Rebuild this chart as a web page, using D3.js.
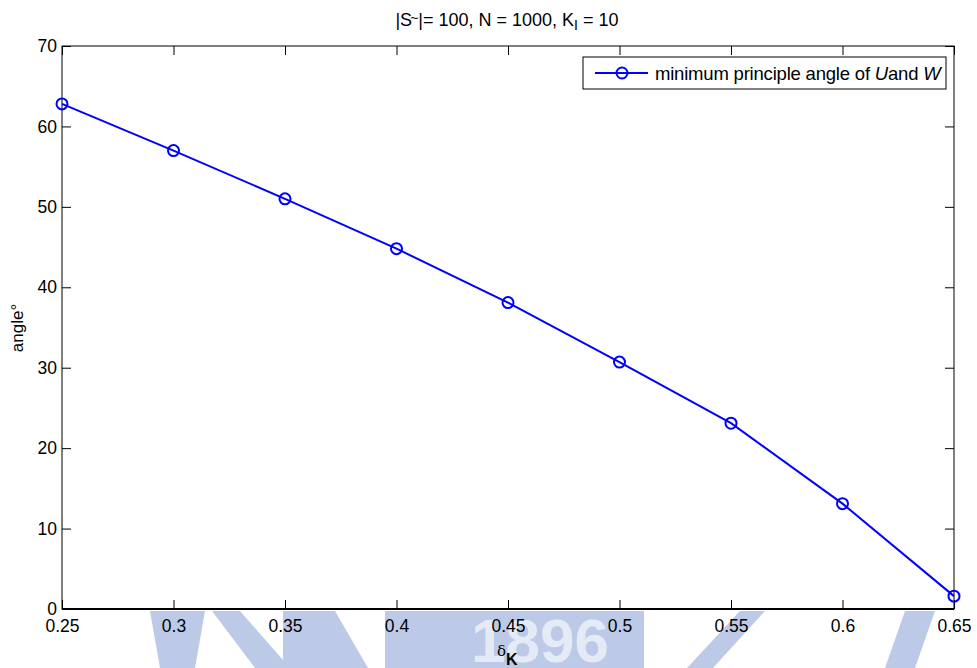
<!DOCTYPE html>
<html>
<head>
<meta charset="utf-8">
<script src="https://cdn.jsdelivr.net/npm/d3@7"></script>
<style>
  body { margin: 0; background: #fff; }
  text { font-family: "Liberation Sans", Arial, sans-serif; }
</style>
</head>
<body>
<script>
var w = 977;
var h = 668;

// data
var delta = [0.25, 0.30, 0.35, 0.40, 0.45, 0.50, 0.55, 0.60, 0.65];
var angle = [62.8, 57.0, 51.0, 44.8, 38.1, 30.7, 23.1, 13.1, 1.6];

var xTicks = [0.25, 0.3, 0.35, 0.4, 0.45, 0.5, 0.55, 0.6, 0.65];
var xTickLabels = ["0.25", "0.3", "0.35", "0.4", "0.45", "0.5", "0.55", "0.6", "0.65"];
var yTicks = [0, 10, 20, 30, 40, 50, 60, 70];

// axes box (plot left/right/top/bottom)
var pl = 62, pr = 954, pt = 46, pb = 609;
var tickLen = 9;

var x = d3.scaleLinear().domain([0.25, 0.65]).range([pl, pr]);
var y = d3.scaleLinear().domain([0, 70]).range([pb, pt]);

var svg = d3.select("body").append("svg")
    .attr("width", w)
    .attr("height", h);

// faint watermark below the axes
var wm = svg.append("g").attr("id", "watermark").attr("fill", "#bccae8");
var wmPolys = [
  [[150,611],[205,611],[195,668],[160,668]],
  [[212,611],[240,611],[290,668],[255,668]],
  [[283,611],[335,611],[368,668],[283,668]],
  [[385,611],[644,611],[644,668],[385,668]],
  [[740,611],[765,611],[713,668],[687,668]],
  [[905,611],[935,611],[915,668],[885,668]]
];
wm.selectAll("polygon").data(wmPolys).enter().append("polygon")
    .attr("points", function(d){ return d.map(function(p){ return p.join(","); }).join(" "); });
wm.append("text")
    .attr("x", 540).attr("y", 662)
    .attr("text-anchor", "middle")
    .attr("font-size", 62)
    .attr("font-weight", "bold")
    .attr("fill", "#e4eaf6")
    .text("1896");
svg.append("rect").attr("x", 0).attr("y", 0).attr("width", w).attr("height", 611).attr("fill", "#fff");

// box
svg.append("rect")
    .attr("x", pl).attr("y", pt)
    .attr("width", pr - pl).attr("height", pb - pt)
    .attr("fill", "#fff")
    .attr("stroke", "#000")
    .attr("stroke-width", 1);

// ticks (inside, all four sides)
svg.append("g").attr("transform", "translate(0," + pb + ")")
    .call(d3.axisBottom(x).tickValues(xTicks).tickSizeInner(-tickLen).tickSizeOuter(0)
        .tickPadding(11)
        .tickFormat(function(d, i){ return xTickLabels[i]; }));
svg.append("g").attr("transform", "translate(0," + pt + ")")
    .call(d3.axisTop(x).tickValues(xTicks).tickSizeInner(-tickLen).tickSizeOuter(0).tickFormat(""));
svg.append("g").attr("transform", "translate(" + pl + ",0)")
    .call(d3.axisLeft(y).tickValues(yTicks).tickSizeInner(-tickLen).tickSizeOuter(0)
        .tickPadding(5));
svg.append("g").attr("transform", "translate(" + pr + ",0)")
    .call(d3.axisRight(y).tickValues(yTicks).tickSizeInner(-tickLen).tickSizeOuter(0).tickFormat(""));

svg.selectAll(".domain").remove();
svg.selectAll(".tick line").attr("stroke", "#000").attr("stroke-width", 1);
svg.selectAll(".tick text")
    .attr("fill", "#000")
    .attr("font-size", 17.5)
    .attr("font-family", "Liberation Sans, Arial, sans-serif");

// thicker bottom axis line
svg.append("line")
    .attr("x1", pl).attr("x2", pr)
    .attr("y1", pb).attr("y2", pb)
    .attr("stroke", "#000").attr("stroke-width", 2);

// series
var line = d3.line()
    .x(function(d, i){ return x(delta[i]); })
    .y(function(d){ return y(d); });

svg.append("path")
    .datum(angle)
    .attr("d", line)
    .attr("fill", "none")
    .attr("stroke", "#0000ff")
    .attr("stroke-width", 2);

svg.append("g").selectAll("circle")
    .data(angle)
    .enter()
    .append("circle")
    .attr("cx", function(d, i){ return x(delta[i]); })
    .attr("cy", function(d){ return y(d); })
    .attr("r", 5.5)
    .attr("fill", "none")
    .attr("stroke", "#0000ff")
    .attr("stroke-width", 2);

// legend
var lg = svg.append("g").attr("id", "legend");
lg.append("rect")
    .attr("x", 583).attr("y", 57)
    .attr("width", 363).attr("height", 32)
    .attr("fill", "#fff").attr("stroke", "#000").attr("stroke-width", 1);
lg.append("line")
    .attr("x1", 595).attr("x2", 648).attr("y1", 73).attr("y2", 73)
    .attr("stroke", "#0000ff").attr("stroke-width", 2);
lg.append("circle")
    .attr("cx", 622).attr("cy", 73).attr("r", 5.5)
    .attr("fill", "none").attr("stroke", "#0000ff").attr("stroke-width", 2);
var lt = lg.append("text")
    .attr("x", 655).attr("y", 80)
    .attr("font-size", 18.5)
    .attr("letter-spacing", -0.2)
    .attr("fill", "#000");
lt.append("tspan").text("minimum principle angle of ");
lt.append("tspan").attr("font-style", "italic").text("U");
lt.append("tspan").text("and ");
lt.append("tspan").attr("font-style", "italic").text("W");

// title
var tt = svg.append("text")
    .attr("x", 507).attr("y", 26)
    .attr("text-anchor", "middle")
    .attr("font-size", 18)
    .attr("fill", "#000");
tt.append("tspan").text("|S");
tt.append("tspan").attr("dx", -2).attr("dy", -3).attr("font-size", 14).text("~");
tt.append("tspan").attr("dy", 3).text("|= 100, N = 1000, K");
tt.append("tspan").attr("dy", 4).attr("font-size", 14).text("I");
tt.append("tspan").attr("dy", -4).text(" = 10");

// x label
var xl = svg.append("text")
    .attr("x", 497).attr("y", 656)
    .attr("font-size", 17)
    .attr("fill", "#000");
xl.append("tspan").attr("font-family", "DejaVu Serif, serif").attr("font-size", 15).text("δ");
xl.append("tspan").attr("dy", 9).attr("font-weight", "bold").attr("font-size", 16).text("K");

// y label
svg.append("text")
    .attr("transform", "translate(23,328) rotate(-90)")
    .attr("text-anchor", "middle")
    .attr("font-size", 17)
    .attr("fill", "#000")
    .text("angle°");
</script>
</body>
</html>
